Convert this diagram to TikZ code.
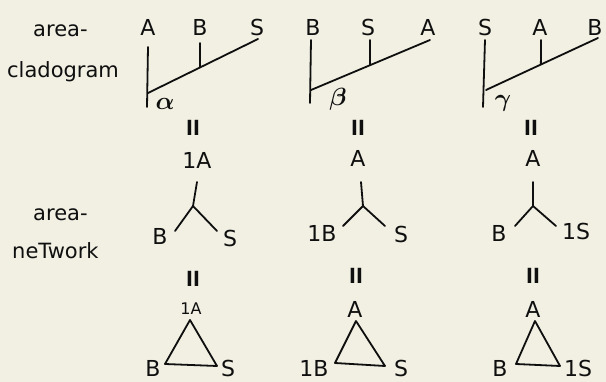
\documentclass[tikz,border=0pt]{standalone}
\usepackage{fontspec}
\setsansfont{DejaVu Sans}
\definecolor{paper}{rgb}{0.95,0.94,0.89}
\definecolor{ink}{rgb}{0.06,0.06,0.06}
\usetikzlibrary{calc}

\begin{document}
\begin{tikzpicture}[x=1pt,y=-1pt,
      lbl/.style={font=\fontsize{22}{24}\selectfont\sffamily,text=ink,inner sep=0pt},
      lbls/.style={font=\fontsize{16}{18}\selectfont\sffamily,text=ink,inner sep=0pt},
      side/.style={font=\fontsize{21}{24}\selectfont\sffamily,text=ink,inner sep=0pt,anchor=base west},
      grk/.style={font=\fontsize{26}{28}\selectfont\boldmath,text=ink},
      eq/.style={font=\fontsize{20}{22}\selectfont\sffamily\bfseries,text=ink},
      ln/.style={draw=ink,line width=1.8pt,line cap=round,line join=round}
    ]
      \fill[paper] (0,0) rectangle (606,382);
      \useasboundingbox (0,0) rectangle (606,382);

      % row labels
      \node[side] (clado1) at (33,37) {area-};
      \node[side] (clado2) at (7,78) {cladogram};
      \node[side] (net1) at (33,221) {area-};
      \node[side] (net2) at (12,259) {neTwork};

      % cladogram alpha
      \node[lbl] (ca1) at (148,27) {A};
      \node[lbl] (cb1) at (200,27) {B};
      \node[lbl] (cs1) at (257,27) {S};
      \coordinate (top1) at (148,47);
      \coordinate (bot1) at (147,107);
      \coordinate (root1) at (148,93);
      \coordinate (end1) at (258,39);
      \coordinate (tk1) at (200,43);
      \draw[ln] (top1) -- (bot1);
      \draw[ln] (root1) -- (end1);
      \draw[ln] (tk1) -- ($(root1)!0.473!(end1)$);
      \node[grk] (al) at (165,104) {$\alpha$};
      \node[eq] (eq1) at (193,128) {ll};

      % cladogram beta
      \node[lbl] (cb2) at (313,27) {B};
      \node[lbl] (cs2) at (368,27) {S};
      \node[lbl] (ca2) at (428,27) {A};
      \coordinate (top2) at (311,40);
      \coordinate (bot2) at (310,103);
      \coordinate (root2) at (311,90);
      \coordinate (end2) at (430,40);
      \coordinate (tk2) at (370,40);
      \draw[ln] (top2) -- (bot2);
      \draw[ln] (root2) -- (end2);
      \draw[ln] (tk2) -- ($(root2)!0.496!(end2)$);
      \node[grk] (be) at (338,99) {$\beta$};
      \node[eq] (eq2) at (358,128) {ll};

      % cladogram gamma
      \node[lbl] (cs3) at (485,27) {S};
      \node[lbl] (ca3) at (540,27) {A};
      \node[lbl] (cb3) at (595,27) {B};
      \coordinate (top3) at (485,40);
      \coordinate (bot3) at (483,107);
      \coordinate (root3) at (486,90);
      \coordinate (end3) at (598,38);
      \coordinate (tk3) at (541,40);
      \draw[ln] (top3) -- (bot3);
      \draw[ln] (root3) -- (end3);
      \draw[ln] (tk3) -- ($(root3)!0.49!(end3)$);
      \node[grk] (ga) at (503,103) {$\gamma$};
      \node[eq] (eq3) at (531,128) {ll};

      % network 1
      \node[lbl] (na1) at (197,160) {1A};
      \coordinate (st1) at (197,182);
      \coordinate (j1) at (193,206);
      \coordinate (l1) at (175,231);
      \coordinate (r1) at (217,231);
      \draw[ln] (st1) -- (j1) -- (l1);
      \draw[ln] (j1) -- (r1);
      \node[lbl] (nb1) at (160,236) {B};
      \node[lbl] (ns1) at (230,238) {S};
      \node[eq] (eq4) at (193,279) {ll};

      % network 2
      \node[lbl] (na2) at (358,158) {A};
      \coordinate (st2) at (361,182);
      \coordinate (j2) at (363,206);
      \coordinate (l2) at (343,226);
      \coordinate (r2) at (385,226);
      \draw[ln] (st2) -- (j2) -- (l2);
      \draw[ln] (j2) -- (r2);
      \node[lbl] (nb2) at (322,233) {1B};
      \node[lbl] (ns2) at (401,234) {S};
      \node[eq] (eq5) at (356,276) {ll};

      % network 3
      \node[lbl] (na3) at (533,158) {A};
      \coordinate (st3) at (533,182);
      \coordinate (j3) at (533,206);
      \coordinate (l3) at (515,226);
      \coordinate (r3) at (556,226);
      \draw[ln] (st3) -- (j3) -- (l3);
      \draw[ln] (j3) -- (r3);
      \node[lbl] (nb3) at (499,233) {B};
      \node[lbl] (ns3) at (576,231) {1S};
      \node[eq] (eq6) at (533,276) {ll};

      % triangles
      \node[lbls] (ta1) at (191,309) {1A};
      \coordinate (tp1) at (190,320);
      \coordinate (tl1) at (165,364);
      \coordinate (tr1) at (217,366);
      \draw[ln] (tp1) -- (tl1) -- (tr1) -- cycle;
      \node[lbl] (tb1) at (153,368) {B};
      \node[lbl] (ts1) at (228,368) {S};

      \node[lbl] (ta2) at (355,309) {A};
      \coordinate (tp2) at (356,321);
      \coordinate (tl2) at (335,363);
      \coordinate (tr2) at (385,366);
      \draw[ln] (tp2) -- (tl2) -- (tr2) -- cycle;
      \node[lbl] (tb2) at (314,368) {1B};
      \node[lbl] (ts2) at (401,368) {S};

      \node[lbl] (ta3) at (533,309) {A};
      \coordinate (tp3) at (535,321);
      \coordinate (tl3) at (516,364);
      \coordinate (tr3) at (560,366);
      \draw[ln] (tp3) -- (tl3) -- (tr3) -- cycle;
      \node[lbl] (tb3) at (500,368) {B};
      \node[lbl] (ts3) at (578,368) {1S};
    \end{tikzpicture}
\end{document}
